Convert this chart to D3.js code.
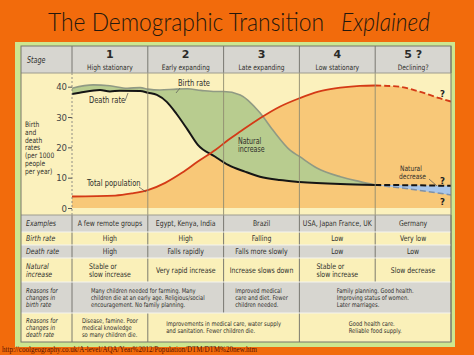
<!DOCTYPE html>
<html><head><meta charset="utf-8">
<script src="https://cdn.jsdelivr.net/npm/d3@7"></script>
<style>body{margin:0;background:#f26b0c}svg{display:block}</style>
</head><body><svg id="c" width="474" height="355"></svg>
<script>
// ---------------- data ----------------
const stageNums = ["1", "2", "3", "4", "5 ?"];
const stageNames = ["High stationary", "Early expanding", "Late expanding", "Low stationary", "Declining?"];
const yTicks = [0, 10, 20, 30, 40];

// time axis in "stage units" (0..5)
const birthT = [0, 0.28, 0.5, 0.73, 0.9, 1.0, 1.16, 1.38, 1.52, 1.7, 1.89, 2.0, 2.22, 2.48, 2.65, 2.88, 3.0, 3.23, 3.54, 3.8, 4.0];
const birthV = [39.5, 40.6, 40.3, 39.5, 39.7, 39.2, 38.9, 39.2, 39.3, 38.8, 38.4, 38.4, 37.3, 31.4, 25.7, 19.0, 17.0, 13.2, 10.3, 8.7, 7.6];
const deathT = [0, 0.1, 0.37, 0.5, 0.63, 0.9, 1.0, 1.12, 1.25, 1.38, 1.52, 1.66, 1.89, 2.06, 2.28, 2.48, 2.74, 3.0, 3.54, 4.0];
const deathV = [37.6, 38.0, 38.9, 38.4, 38.7, 38.6, 38.0, 37.3, 35.0, 31.0, 26.0, 20.8, 16.9, 14.2, 12.0, 10.3, 9.2, 8.6, 7.9, 7.6];
const popT = [0, 0.57, 0.79, 1.0, 1.23, 1.45, 1.66, 1.89, 2.06, 2.22, 2.48, 2.74, 3.0, 3.25, 3.54, 3.8, 4.0];
const popV = [3.8, 4.1, 4.8, 5.9, 8.3, 11.6, 15.3, 19.1, 22.4, 25.2, 29.6, 33.4, 36.2, 38.4, 39.7, 40.3, 40.4];
const popDashT = [4.0, 4.32, 4.58, 4.85, 5.0];
const popDashV = [40.4, 40.0, 38.4, 36.2, 35.1];
const s5T = [4.0, 4.5, 5.0];
const s5Death = [7.6, 7.5, 7.3];
const s5Birth = [7.6, 6.1, 4.3];

const rowLabels = [["Examples"], ["Birth rate"], ["Death rate"], ["Natural", "increase"],
  ["Reasons for", "changes in", "birth rate"], ["Reasons for", "changes in", "death rate"]];
const examples = ["A few remote groups", "Egypt, Kenya, India", "Brazil", "USA, Japan France, UK", "Germany"];
const birthRateText = ["High", "High", "Falling", "Low", "Very low"];
const deathRateText = ["High", "Falls rapidly", "Falls more slowly", "Low", "Low"];
const naturalIncrease = [["Stable or", "slow increase"], ["Very rapid increase"], ["Increase slows down"], ["Stable or", "slow increase"], ["Slow decrease"]];
const reasonsBirth = [
  {from: 0, to: 2, lines: ["Many children needed for farming. Many", "children die at an early age. Religious/social", "encouragement. No family planning."]},
  {from: 2, to: 3, lines: ["Improved medical", "care and diet. Fewer", "children needed."]},
  {from: 3, to: 5, lines: ["Family planning. Good health.", "Improving status of women.", "Later marriages."]}];
const reasonsDeath = [
  {from: 0, to: 1, lines: ["Disease, famine. Poor", "medical knowledge", "so many children die."]},
  {from: 1, to: 3, lines: ["Improvements in medical care, water supply", "and sanitation. Fewer children die."]},
  {from: 3, to: 5, lines: ["Good health care.", "Reliable food supply."]}];

// ---------------- drawing ----------------
const svg = d3.select("#c");
const FONT = "'Liberation Sans Narrow','DejaVu Sans Condensed','Arial Narrow',sans-serif";
const TXT = "#2f2f2b";
const SQ = 0.88; // horizontal squeeze to mimic a narrow face
svg.append("rect").attr("width", 474).attr("height", 355).attr("fill", "#f26b0c");

function squeeze(sel, f) {
  sel.each(function () {
    const w = this.getComputedTextLength();
    d3.select(this).attr("textLength", w * f).attr("lengthAdjust", "spacingAndGlyphs");
  });
  return sel;
}

// title
svg.append("text").attr("x", 48).attr("y", 31).attr("textLength", 276).attr("lengthAdjust", "spacingAndGlyphs")
  .style("font-family", "Lato,'Open Sans',sans-serif").style("font-weight", 300).style("font-size", "25px").attr("fill", "#24180e")
  .text("The Demographic Transition");
svg.append("text").attr("x", 341).attr("y", 31).attr("textLength", 89).attr("lengthAdjust", "spacingAndGlyphs")
  .style("font-family", "Lato,'Open Sans',sans-serif").style("font-weight", 300).style("font-size", "25px").style("font-style", "italic").attr("fill", "#24180e")
  .text("Explained");

// green frame
svg.append("rect").attr("x", 15).attr("y", 42).attr("width", 440).attr("height", 305).attr("fill", "#cde690");

const x = d3.scaleLinear().domain([0, 5]).range([72, 451]);
const y = d3.scaleLinear().domain([0, 40]).range([208, 86.7]);
const colX = d3.range(6).map(i => x(i));
const L = 21, R = 451, TOP = 46, HB = 73, CB = 215;
const rowEdges = [CB, 232, 245, 258, 282, 313, 342];
const GRAY = "#d7d6d0", YEL = "#faf0b9";

svg.append("rect").attr("x", L).attr("y", TOP).attr("width", R - L).attr("height", HB - TOP).attr("fill", GRAY);
svg.append("rect").attr("x", L).attr("y", HB).attr("width", R - L).attr("height", CB - HB).attr("fill", "#fbf1bd");
rowLabels.forEach((r, i) => {
  svg.append("rect").attr("x", L).attr("y", rowEdges[i]).attr("width", R - L)
    .attr("height", rowEdges[i + 1] - rowEdges[i]).attr("fill", i % 2 === 0 ? GRAY : YEL);
});

// chart
const g = svg.append("g");
const defs = svg.append("defs");
defs.append("clipPath").attr("id", "plot").append("rect").attr("x", 72).attr("y", HB).attr("width", R - 72).attr("height", CB - HB);
const pts = (T, V) => T.map((t, i) => ({t, v: V[i]}));
const line = d3.line().x(d => x(d.t)).y(d => y(d.v)).curve(d3.curveMonotoneX);
const areaBelow = d3.area().x(d => x(d.t)).y0(y(0)).y1(d => y(d.v)).curve(d3.curveMonotoneX);
const areaAbove = d3.area().x(d => x(d.t)).y0(HB - 5).y1(d => y(d.v)).curve(d3.curveMonotoneX);

const birth = pts(birthT, birthV), death = pts(deathT, deathV);
const popAll = pts(popT, popV).concat(pts(popDashT.slice(1), popDashV.slice(1)));
defs.append("clipPath").attr("id", "aboveDeath").append("path").attr("d", areaAbove(death));

const plot = g.append("g").attr("clip-path", "url(#plot)");
plot.append("path").attr("d", areaBelow(popAll)).attr("fill", "#f8c878");
plot.append("g").attr("clip-path", "url(#aboveDeath)")
  .append("path").attr("d", areaBelow(birth)).attr("fill", "#b8cc8f");
const s5 = s5T.map((t, i) => ({t, d: s5Death[i], b: s5Birth[i]}));
plot.append("path").attr("d", d3.area().x(d => x(d.t)).y0(d => y(d.b)).y1(d => y(d.d)).curve(d3.curveMonotoneX)(s5))
  .attr("fill", "#a9c6ea");

colX.slice(1, 5).forEach(cx => {
  g.append("line").attr("x1", cx).attr("x2", cx).attr("y1", HB).attr("y2", CB).attr("stroke", "#8e8b70").attr("stroke-width", 0.9);
});

plot.append("path").attr("d", line(birth)).attr("fill", "none").attr("stroke", "#909a84").attr("stroke-width", 1.6);
plot.append("path").attr("d", line(s5.map(d => ({t: d.t, v: d.b})))).attr("fill", "none").attr("stroke", "#7f91a8")
  .attr("stroke-width", 1.5).attr("stroke-dasharray", "6,3");
plot.append("path").attr("d", line(death)).attr("fill", "none").attr("stroke", "#151515").attr("stroke-width", 2);
plot.append("path").attr("d", line(s5.map(d => ({t: d.t, v: d.d})))).attr("fill", "none").attr("stroke", "#151515")
  .attr("stroke-width", 2).attr("stroke-dasharray", "6,3");
plot.append("path").attr("d", line(pts(popT, popV))).attr("fill", "none").attr("stroke", "#d43a16").attr("stroke-width", 1.8);
plot.append("path").attr("d", line(pts(popDashT, popDashV))).attr("fill", "none").attr("stroke", "#d43a16")
  .attr("stroke-width", 1.8).attr("stroke-dasharray", "6,3");

// y axis
const ax = svg.append("g").attr("transform", "translate(72,0)")
  .call(d3.axisLeft(y).tickValues(yTicks).tickSize(4).tickPadding(1));
ax.select(".domain").remove();
ax.selectAll(".tick line").attr("stroke", "#555");
ax.selectAll(".tick text").style("font-family", FONT).style("font-size", "9.5px").attr("fill", "#444");
svg.append("line").attr("x1", 72).attr("x2", 72).attr("y1", HB).attr("y2", CB).attr("stroke", "#777")
  .attr("stroke-width", 0.8).attr("stroke-dasharray", "2,2");

// y label
const yl = ["Birth", "and", "death", "rates", "(per 1000", "people", "per year)"];
yl.forEach((s, i) => squeeze(svg.append("text").attr("x", 25).attr("y", 127 + i * 7.8).style("font-family", FONT)
  .style("font-size", "7.5px").attr("fill", TXT).text(s), SQ));

// chart annotations
const ann = (t, ax_, ay, size, opts = {}) => squeeze(svg.append("text").attr("x", ax_).attr("y", ay)
  .style("font-family", FONT).style("font-size", size + "px").style("font-weight", opts.bold ? "bold" : "normal")
  .attr("fill", opts.fill || TXT).text(t), opts.bold ? 1 : SQ);
const lead = (x1, y1, x2, y2) => svg.append("line").attr("x1", x1).attr("y1", y1).attr("x2", x2).attr("y2", y2)
  .attr("stroke", "#555").attr("stroke-width", 0.7);
ann("Birth rate", 178, 86, 8.5); lead(180, 88, 176, 93);
ann("Death rate", 89, 103, 8.5); lead(125, 101, 128, 93);
ann("Total population", 87, 186, 8.5); lead(139, 187, 146, 192);
ann("Natural", 238, 143.5, 8); ann("increase", 238, 152.3, 8);
ann("Natural", 400, 170.5, 7.5); ann("decrease", 399, 178.5, 7.5); lead(429, 179, 437, 186);
ann("?", 440, 97, 9.5, {bold: true, fill: "#222"});
ann("?", 440, 184, 9.5, {bold: true, fill: "#222"});
ann("?", 440, 205, 9.5, {bold: true, fill: "#222"});

// header text
squeeze(svg.append("text").attr("x", 27).attr("y", 63).style("font-family", FONT).style("font-size", "8px")
  .style("font-style", "italic").attr("fill", TXT).text("Stage"), SQ);
stageNums.forEach((s, i) => {
  const cx = (colX[i] + colX[i + 1]) / 2;
  svg.append("text").attr("x", cx).attr("y", 58).attr("text-anchor", "middle").style("font-family", "'DejaVu Sans',sans-serif")
    .style("font-size", "11px").style("font-weight", "bold").attr("fill", "#2a2a28").text(s);
  squeeze(svg.append("text").attr("x", cx).attr("y", 69.5).attr("text-anchor", "middle").style("font-family", FONT)
    .style("font-size", "7.5px").attr("fill", TXT).text(stageNames[i]), SQ);
});

// table text helper: left-aligned block centered in [x0,x1]
function block(lines, x0, x1, y0, y1, size, lh, italicLeft) {
  const mid = (y0 + y1) / 2;
  const els = lines.map((s, i) => {
    const t = svg.append("text").attr("y", mid + (i - (lines.length - 1) / 2) * lh + size * 0.35)
      .style("font-family", FONT).style("font-size", size + "px").attr("fill", TXT).text(s);
    if (italicLeft) t.style("font-style", "italic");
    squeeze(t, SQ);
    return t;
  });
  if (italicLeft) { els.forEach(t => t.attr("x", x0)); return; }
  if (lines.length === 1) { els[0].attr("x", (x0 + x1) / 2).attr("text-anchor", "middle"); return; }
  const w = d3.max(els, t => +t.attr("textLength"));
  els.forEach(t => t.attr("x", (x0 + x1) / 2 - w / 2));
}

rowLabels.forEach((lab, i) => block(lab, 26, 72, rowEdges[i], rowEdges[i + 1], lab.length === 3 ? 6.8 : 7.8, lab.length === 3 ? 6.7 : 7.8, true));

const simpleRows = [examples, birthRateText, deathRateText, naturalIncrease];
simpleRows.forEach((row, ri) => {
  row.forEach((cell, ci) => {
    const lines = Array.isArray(cell) ? cell : [cell];
    block(lines, colX[ci], colX[ci + 1], rowEdges[ri], rowEdges[ri + 1], 7.8, 7.8, false);
  });
});
[reasonsBirth, reasonsDeath].forEach((row, k) => {
  const ri = 4 + k;
  row.forEach(c => block(c.lines, colX[c.from], colX[c.to], rowEdges[ri], rowEdges[ri + 1], 6.5, 6.8, false));
});

// borders
const vb = (xx, y1, y2) => svg.append("line").attr("x1", xx).attr("x2", xx).attr("y1", y1).attr("y2", y2)
  .attr("stroke", "#6e6e66").attr("stroke-width", 0.9);
colX.forEach(cx => vb(cx, TOP, HB));
for (let ri = 0; ri < 4; ri++) colX.forEach(cx => vb(cx, rowEdges[ri], rowEdges[ri + 1]));
[reasonsBirth, reasonsDeath].forEach((row, k) => {
  const ri = 4 + k;
  vb(colX[0], rowEdges[ri], rowEdges[ri + 1]);
  row.forEach(c => vb(colX[c.to], rowEdges[ri], rowEdges[ri + 1]));
});
rowEdges.slice(1, -1).forEach(ry => svg.append("line").attr("x1", L).attr("x2", R).attr("y1", ry).attr("y2", ry)
  .attr("stroke", "#f4f4ee").attr("stroke-width", 1));
[HB, CB].forEach(ry => svg.append("line").attr("x1", L).attr("x2", R).attr("y1", ry).attr("y2", ry)
  .attr("stroke", "#9d9c90").attr("stroke-width", 1));
svg.append("rect").attr("x", L).attr("y", TOP).attr("width", R - L).attr("height", rowEdges[6] - TOP)
  .attr("fill", "none").attr("stroke", "#77776c").attr("stroke-width", 1);

svg.append("text").attr("x", 2).attr("y", 352).attr("textLength", 255).attr("lengthAdjust", "spacingAndGlyphs")
  .style("font-family", "'Liberation Serif','DejaVu Serif',serif").style("font-size", "7.5px").attr("fill", "#5a1200")
  .text("http://coolgeography.co.uk/A-level/AQA/Year%2012/Population/DTM/DTM%20new.htm");
</script></body></html>
